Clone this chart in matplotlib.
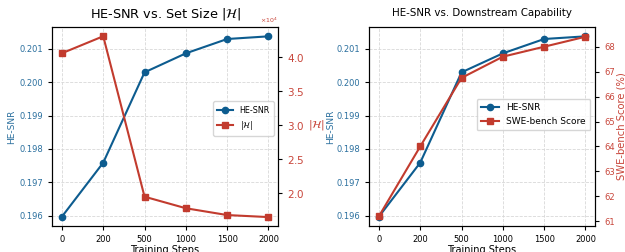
import matplotlib.pyplot as plt
import numpy as np

steps = ["0", "200", "500", "1000", "1500", "2000"]
he_snr = [0.19597, 0.19759, 0.20030, 0.20087, 0.20130, 0.20138]
set_size = [40600, 43100, 19500, 17800, 16800, 16500]
swe_score = [61.2, 64.0, 66.75, 67.6, 68.0, 68.4]

blue = "#0d5c8f"
red = "#c23b2e"
blue_tick = "#2a6f9e"
red_tick = "#c8453a"

fig = plt.figure(figsize=(6.25, 2.52), dpi=100)
x = np.arange(len(steps))
snr_ticks = [0.196, 0.197, 0.198, 0.199, 0.200, 0.201]

# left panel: HE-SNR vs set size
ax1 = fig.add_axes([52/625, 1 - 226/252, 226/625, 199/252])
l1, = ax1.plot(x, he_snr, color=blue, marker="o", markersize=4.5, linewidth=1.5, label="HE-SNR")
ax1.set_xticks(x, steps)
ax1.set_ylabel("HE-SNR", color=blue_tick, fontsize=6.5, labelpad=2)
ax1.set_xlabel("Training Steps", fontsize=7, labelpad=1)
ax1.tick_params(axis="y", labelcolor=blue_tick, labelsize=6, length=3)
ax1.tick_params(axis="x", labelsize=6, length=3)
ax1.set_yticks(snr_ticks)
ax1.set_ylim(0.19569, 0.20166)
ax1.set_xlim(-0.24, 5.23)
ax1.grid(True, linestyle="--", color="#d8d8d8", linewidth=0.6)
ax1.set_title(r"HE-SNR vs. Set Size $|\mathcal{H}|$", fontsize=9.3, pad=7)

ax2 = ax1.twinx()
l2, = ax2.plot(x, set_size, color=red, marker="s", markersize=4.5, linewidth=1.5, label=r"$|\mathcal{H}|$")
ax2.set_ylabel(r"$|\mathcal{H}|$", color=red_tick, fontsize=8, rotation=0,
               va="center", ha="left")
ax2.yaxis.set_label_coords(1.132, 0.51)
ax2.tick_params(axis="y", labelcolor=red_tick, labelsize=7.5, length=3)
ax2.ticklabel_format(axis="y", style="sci", scilimits=(4, 4), useMathText=True)
ax2.yaxis.get_offset_text().set_color(red_tick)
ax2.yaxis.get_offset_text().set_fontsize(4.5)
ax2.set_ylim(15190, 44460)
ax1.legend(handles=[l1, l2], loc="center right", fontsize=5.8, bbox_to_anchor=(1.0, 0.54),
           handlelength=2.0, borderpad=0.5, labelspacing=0.5)

# right panel: HE-SNR vs downstream
ax3 = fig.add_axes([369/625, 1 - 226/252, 226/625, 199/252])
l3, = ax3.plot(x, he_snr, color=blue, marker="o", markersize=4.5, linewidth=1.5, label="HE-SNR")
ax3.set_xticks(x, steps)
ax3.set_ylabel("HE-SNR", color=blue_tick, fontsize=6.5, labelpad=1)
ax3.set_xlabel("Training Steps", fontsize=7, labelpad=1)
ax3.tick_params(axis="y", labelcolor=blue_tick, labelsize=6, length=3)
ax3.tick_params(axis="x", labelsize=6, length=3)
ax3.set_yticks(snr_ticks)
ax3.set_ylim(0.19569, 0.20166)
ax3.set_xlim(-0.24, 5.23)
ax3.grid(True, linestyle="--", color="#d8d8d8", linewidth=0.6)
ax3.set_title("HE-SNR vs. Downstream Capability", fontsize=7.4, pad=8)

ax4 = ax3.twinx()
l4, = ax4.plot(x, swe_score, color=red, marker="s", markersize=4.5, linewidth=1.5, label="SWE-bench Score")
ax4.set_ylabel("SWE-bench Score (%)", color=red_tick, fontsize=7.2, labelpad=1)
ax4.tick_params(axis="y", labelcolor=red_tick, labelsize=6, length=3)
ax4.set_ylim(60.81, 68.79)
ax3.legend(handles=[l3, l4], loc="center right", fontsize=6.5, bbox_to_anchor=(1.0, 0.56),
           handlelength=2.0, borderpad=0.5, labelspacing=0.5)

fig.savefig("out.png", dpi=100)
